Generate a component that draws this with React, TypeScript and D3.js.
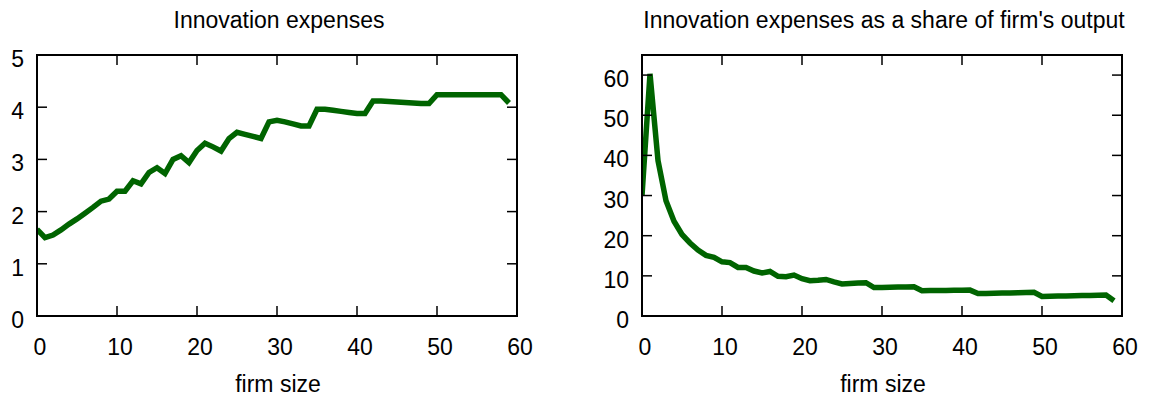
import React from 'react';
import * as d3 from 'd3';

// firm size 0..59
const firmSize = d3.range(0, 60);

const expenses = [
  1.66, 1.5, 1.55, 1.65, 1.76, 1.86, 1.97, 2.08, 2.2, 2.24,
  2.39, 2.39, 2.59, 2.53, 2.75, 2.84, 2.73, 3.0, 3.07, 2.94,
  3.17, 3.31, 3.24, 3.16, 3.4, 3.52, 3.48, 3.44, 3.4, 3.72,
  3.75, 3.72, 3.68, 3.64, 3.64, 3.96, 3.96, 3.94, 3.92, 3.9,
  3.88, 3.88, 4.12, 4.12, 4.11, 4.1, 4.09, 4.08, 4.07, 4.07,
  4.24, 4.24, 4.24, 4.24, 4.24, 4.24, 4.24, 4.24, 4.24, 4.08,
];

const share = [
  30, 60.3, 38.7, 28.7, 23.6, 20.3, 18.2, 16.4, 15.1, 14.6,
  13.5, 13.3, 12.1, 12.1, 11.2, 10.7, 11.1, 9.9, 9.8, 10.2,
  9.3, 8.8, 8.9, 9.1, 8.5, 8.0, 8.1, 8.2, 8.3, 7.1,
  7.1, 7.15, 7.2, 7.25, 7.3, 6.3, 6.32, 6.35, 6.38, 6.4,
  6.42, 6.45, 5.6, 5.62, 5.65, 5.7, 5.75, 5.8, 5.85, 5.9,
  4.85, 4.9, 4.95, 5.0, 5.05, 5.1, 5.12, 5.15, 5.2, 3.8,
];

const xTicks = [0, 10, 20, 30, 40, 50, 60];
const leftYTicks = [0, 1, 2, 3, 4, 5];
const rightYTicks = [0, 10, 20, 30, 40, 50, 60];

const FONT = 'Liberation Sans, Arial, sans-serif';
const GREEN = '#006400';

type PanelProps = {
  left: number;
  right: number;
  title: string;
  values: number[];
  yMax: number;
  yTicks: number[];
};

function Panel({ left, right, title, values, yMax, yTicks }: PanelProps) {
  const top = 55;
  const bottom = 316;
  const x = d3.scaleLinear().domain([0, 60]).range([left, right]);
  const y = d3.scaleLinear().domain([0, yMax]).range([bottom, top]);
  const line = d3.line<number>()
    .x((d, i) => x(firmSize[i]))
    .y(d => y(d));
  const tick = 10;
  const cx = (left + right) / 2;

  return (
    <g fontFamily={FONT} fill="#000">
      <text x={cx + 2} y={28} textAnchor="middle" fontSize={23}>{title}</text>
      <text x={cx + 1} y={392} textAnchor="middle" fontSize={23}>firm size</text>

      <clipPath id={`clip-${left}`}>
        <rect x={left} y={top} width={right - left} height={bottom - top} />
      </clipPath>
      <path d={line(values) || ''} fill="none" stroke={GREEN} strokeWidth={5.5}
        strokeLinejoin="miter" clipPath={`url(#clip-${left})`} />

      {xTicks.map(t => (
        <g key={`x${t}`}>
          <line x1={x(t)} x2={x(t)} y1={bottom} y2={bottom - tick} stroke="#000" strokeWidth={1.5} />
          <line x1={x(t)} x2={x(t)} y1={top} y2={top + tick} stroke="#000" strokeWidth={1.5} />
          <text x={x(t) + 3} y={355} textAnchor="middle" fontSize={23}>{t}</text>
        </g>
      ))}
      {yTicks.map(t => (
        <g key={`y${t}`}>
          <line x1={left} x2={left + tick} y1={y(t)} y2={y(t)} stroke="#000" strokeWidth={1.5} />
          <line x1={right} x2={right - tick} y1={y(t)} y2={y(t)} stroke="#000" strokeWidth={1.5} />
          <text x={left - 13} y={y(t) + 12} textAnchor="end" fontSize={23}>{t}</text>
        </g>
      ))}
      <rect x={left} y={top} width={right - left} height={bottom - top}
        fill="none" stroke="#000" strokeWidth={2} />
    </g>
  );
}

export default function App() {
  return (
    <svg width={1149} height={399} style={{ position: 'absolute', left: 0, top: 0, background: '#fff' }}>
      <Panel left={37} right={517} title="Innovation expenses" values={expenses} yMax={5} yTicks={leftYTicks} />
      <Panel left={642} right={1122} title="Innovation expenses as a share of firm's output" values={share} yMax={65} yTicks={rightYTicks} />
    </svg>
  );
}
